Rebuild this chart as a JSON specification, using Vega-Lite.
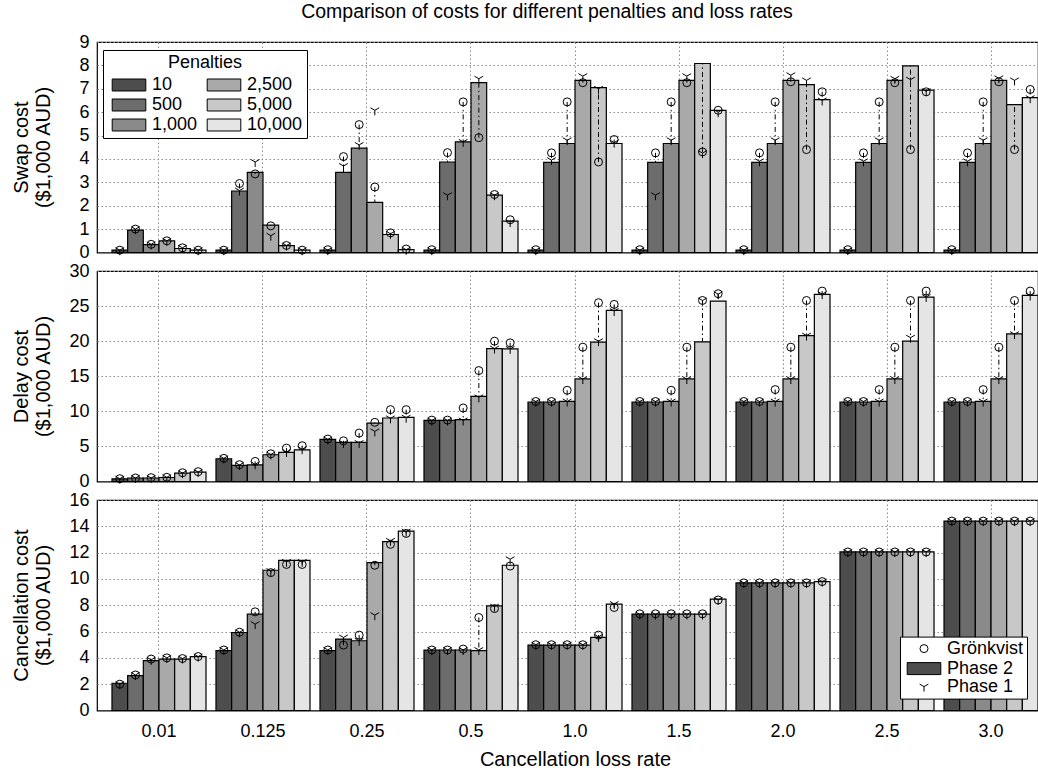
{
"$schema": "https://vega.github.io/schema/vega-lite/v6.json",
"padding": {"left": 10, "top": 2, "right": 0, "bottom": 0},
"title": {"text": "Comparison of costs for different penalties and loss rates", "fontSize": 19.5, "fontWeight": "normal", "font": "Liberation Sans", "anchor": "middle", "offset": 9.7, "dx": 15, "color": "black"},
"config": {
 "font": "Liberation Sans",
 "view": {"stroke": "black", "strokeWidth": 1.2},
 "axis": {"grid": true, "gridColor": "#8c8c8c", "gridDash": [1.5, 2.5], "gridWidth": 1, "domain": false, "ticks": false, "labelFontSize": 18, "labelColor": "black", "titleFontSize": 20, "titleFontWeight": "normal", "titleColor": "black", "labelFont": "Liberation Sans", "titleFont": "Liberation Sans", "labelOverlap": false},
 "axisY": {"labelPadding": 8, "titleX": -66, "titleY": 105, "titleBaseline": "bottom", "titleLineHeight": 22, "titleAngle": -90, "titleAlign": "center"},
 "axisX": {"labelAngle": 0, "labelPadding": 12, "titlePadding": 9},
 "legend": {"labelFontSize": 18, "labelFont": "Liberation Sans", "titleFont": "Liberation Sans", "titleFontSize": 18, "titleFontWeight": "normal", "labelColor": "black", "titleColor": "black", "strokeColor": "black", "fillColor": "white", "symbolStrokeColor": "black", "symbolStrokeWidth": 1}
},
"resolve": {"scale": {"color": "independent", "shape": "independent", "fill": "independent", "size": "independent", "stroke": "independent", "y": "independent"}, "legend": {"color": "independent", "shape": "independent", "fill": "independent", "size": "independent", "stroke": "independent"}},
"spacing": -2,
"datasets": {"costs": [
{"metric":"Swap","rate":"0.01","penalty":"10","Phase 2":0.1,"Grönkvist":0.1,"Phase 1":0.1},
{"metric":"Swap","rate":"0.01","penalty":"500","Phase 2":0.96,"Grönkvist":1.0,"Phase 1":1.0},
{"metric":"Swap","rate":"0.01","penalty":"1,000","Phase 2":0.34,"Grönkvist":0.35,"Phase 1":0.35},
{"metric":"Swap","rate":"0.01","penalty":"2,500","Phase 2":0.5,"Grönkvist":0.5,"Phase 1":0.5},
{"metric":"Swap","rate":"0.01","penalty":"5,000","Phase 2":0.17,"Grönkvist":0.2,"Phase 1":0.2},
{"metric":"Swap","rate":"0.01","penalty":"10,000","Phase 2":0.1,"Grönkvist":0.1,"Phase 1":0.1},
{"metric":"Swap","rate":"0.125","penalty":"10","Phase 2":0.1,"Grönkvist":0.1,"Phase 1":0.1},
{"metric":"Swap","rate":"0.125","penalty":"500","Phase 2":2.63,"Grönkvist":2.95,"Phase 1":2.65},
{"metric":"Swap","rate":"0.125","penalty":"1,000","Phase 2":3.43,"Grönkvist":3.36,"Phase 1":3.87},
{"metric":"Swap","rate":"0.125","penalty":"2,500","Phase 2":1.17,"Grönkvist":1.14,"Phase 1":0.72},
{"metric":"Swap","rate":"0.125","penalty":"5,000","Phase 2":0.29,"Grönkvist":0.3,"Phase 1":0.3},
{"metric":"Swap","rate":"0.125","penalty":"10,000","Phase 2":0.1,"Grönkvist":0.1,"Phase 1":0.1},
{"metric":"Swap","rate":"0.25","penalty":"10","Phase 2":0.1,"Grönkvist":0.12,"Phase 1":0.1},
{"metric":"Swap","rate":"0.25","penalty":"500","Phase 2":3.43,"Grönkvist":4.1,"Phase 1":3.7},
{"metric":"Swap","rate":"0.25","penalty":"1,000","Phase 2":4.46,"Grönkvist":5.47,"Phase 1":4.6},
{"metric":"Swap","rate":"0.25","penalty":"2,500","Phase 2":2.14,"Grönkvist":2.8,"Phase 1":6.08},
{"metric":"Swap","rate":"0.25","penalty":"5,000","Phase 2":0.77,"Grönkvist":0.84,"Phase 1":0.8},
{"metric":"Swap","rate":"0.25","penalty":"10,000","Phase 2":0.12,"Grönkvist":0.15,"Phase 1":0.12},
{"metric":"Swap","rate":"0.5","penalty":"10","Phase 2":0.1,"Grönkvist":0.12,"Phase 1":0.1},
{"metric":"Swap","rate":"0.5","penalty":"500","Phase 2":3.87,"Grönkvist":4.27,"Phase 1":2.45},
{"metric":"Swap","rate":"0.5","penalty":"1,000","Phase 2":4.73,"Grönkvist":6.44,"Phase 1":4.73},
{"metric":"Swap","rate":"0.5","penalty":"2,500","Phase 2":7.26,"Grönkvist":4.91,"Phase 1":7.43},
{"metric":"Swap","rate":"0.5","penalty":"5,000","Phase 2":2.45,"Grönkvist":2.48,"Phase 1":2.45},
{"metric":"Swap","rate":"0.5","penalty":"10,000","Phase 2":1.34,"Grönkvist":1.4,"Phase 1":1.3},
{"metric":"Swap","rate":"1.0","penalty":"10","Phase 2":0.1,"Grönkvist":0.12,"Phase 1":0.1},
{"metric":"Swap","rate":"1.0","penalty":"500","Phase 2":3.85,"Grönkvist":4.26,"Phase 1":3.95},
{"metric":"Swap","rate":"1.0","penalty":"1,000","Phase 2":4.66,"Grönkvist":6.44,"Phase 1":4.8},
{"metric":"Swap","rate":"1.0","penalty":"2,500","Phase 2":7.36,"Grönkvist":7.26,"Phase 1":7.54},
{"metric":"Swap","rate":"1.0","penalty":"5,000","Phase 2":7.05,"Grönkvist":3.87,"Phase 1":7.0},
{"metric":"Swap","rate":"1.0","penalty":"10,000","Phase 2":4.66,"Grönkvist":4.83,"Phase 1":4.7},
{"metric":"Swap","rate":"1.5","penalty":"10","Phase 2":0.1,"Grönkvist":0.12,"Phase 1":0.1},
{"metric":"Swap","rate":"1.5","penalty":"500","Phase 2":3.85,"Grönkvist":4.26,"Phase 1":2.45},
{"metric":"Swap","rate":"1.5","penalty":"1,000","Phase 2":4.66,"Grönkvist":6.44,"Phase 1":4.8},
{"metric":"Swap","rate":"1.5","penalty":"2,500","Phase 2":7.36,"Grönkvist":7.26,"Phase 1":7.54},
{"metric":"Swap","rate":"1.5","penalty":"5,000","Phase 2":8.08,"Grönkvist":4.3,"Phase 1":4.25},
{"metric":"Swap","rate":"1.5","penalty":"10,000","Phase 2":6.08,"Grönkvist":6.08,"Phase 1":6.0},
{"metric":"Swap","rate":"2.0","penalty":"10","Phase 2":0.1,"Grönkvist":0.12,"Phase 1":0.1},
{"metric":"Swap","rate":"2.0","penalty":"500","Phase 2":3.85,"Grönkvist":4.26,"Phase 1":3.9},
{"metric":"Swap","rate":"2.0","penalty":"1,000","Phase 2":4.66,"Grönkvist":6.44,"Phase 1":4.8},
{"metric":"Swap","rate":"2.0","penalty":"2,500","Phase 2":7.36,"Grönkvist":7.3,"Phase 1":7.58},
{"metric":"Swap","rate":"2.0","penalty":"5,000","Phase 2":7.18,"Grönkvist":4.4,"Phase 1":7.36},
{"metric":"Swap","rate":"2.0","penalty":"10,000","Phase 2":6.54,"Grönkvist":6.87,"Phase 1":6.5},
{"metric":"Swap","rate":"2.5","penalty":"10","Phase 2":0.1,"Grönkvist":0.12,"Phase 1":0.1},
{"metric":"Swap","rate":"2.5","penalty":"500","Phase 2":3.85,"Grönkvist":4.26,"Phase 1":3.9},
{"metric":"Swap","rate":"2.5","penalty":"1,000","Phase 2":4.66,"Grönkvist":6.44,"Phase 1":4.8},
{"metric":"Swap","rate":"2.5","penalty":"2,500","Phase 2":7.36,"Grönkvist":7.26,"Phase 1":7.43},
{"metric":"Swap","rate":"2.5","penalty":"5,000","Phase 2":7.98,"Grönkvist":4.4,"Phase 1":7.39},
{"metric":"Swap","rate":"2.5","penalty":"10,000","Phase 2":6.94,"Grönkvist":6.87,"Phase 1":6.9},
{"metric":"Swap","rate":"3.0","penalty":"10","Phase 2":0.1,"Grönkvist":0.12,"Phase 1":0.1},
{"metric":"Swap","rate":"3.0","penalty":"500","Phase 2":3.85,"Grönkvist":4.26,"Phase 1":3.9},
{"metric":"Swap","rate":"3.0","penalty":"1,000","Phase 2":4.66,"Grönkvist":6.44,"Phase 1":4.8},
{"metric":"Swap","rate":"3.0","penalty":"2,500","Phase 2":7.36,"Grönkvist":7.3,"Phase 1":7.45},
{"metric":"Swap","rate":"3.0","penalty":"5,000","Phase 2":6.32,"Grönkvist":4.4,"Phase 1":7.36},
{"metric":"Swap","rate":"3.0","penalty":"10,000","Phase 2":6.62,"Grönkvist":6.97,"Phase 1":6.6},
{"metric":"Delay","rate":"0.01","penalty":"10","Phase 2":0.38,"Grönkvist":0.4,"Phase 1":0.4},
{"metric":"Delay","rate":"0.01","penalty":"500","Phase 2":0.5,"Grönkvist":0.5,"Phase 1":0.5},
{"metric":"Delay","rate":"0.01","penalty":"1,000","Phase 2":0.5,"Grönkvist":0.55,"Phase 1":0.5},
{"metric":"Delay","rate":"0.01","penalty":"2,500","Phase 2":0.57,"Grönkvist":0.6,"Phase 1":0.6},
{"metric":"Delay","rate":"0.01","penalty":"5,000","Phase 2":1.2,"Grönkvist":1.25,"Phase 1":1.2},
{"metric":"Delay","rate":"0.01","penalty":"10,000","Phase 2":1.33,"Grönkvist":1.4,"Phase 1":1.35},
{"metric":"Delay","rate":"0.125","penalty":"10","Phase 2":3.24,"Grönkvist":3.3,"Phase 1":3.3},
{"metric":"Delay","rate":"0.125","penalty":"500","Phase 2":2.29,"Grönkvist":2.4,"Phase 1":2.35},
{"metric":"Delay","rate":"0.125","penalty":"1,000","Phase 2":2.38,"Grönkvist":2.86,"Phase 1":2.45},
{"metric":"Delay","rate":"0.125","penalty":"2,500","Phase 2":3.81,"Grönkvist":3.95,"Phase 1":3.85},
{"metric":"Delay","rate":"0.125","penalty":"5,000","Phase 2":4.14,"Grönkvist":4.76,"Phase 1":4.2},
{"metric":"Delay","rate":"0.125","penalty":"10,000","Phase 2":4.52,"Grönkvist":5.1,"Phase 1":4.6},
{"metric":"Delay","rate":"0.25","penalty":"10","Phase 2":6.0,"Grönkvist":6.05,"Phase 1":6.0},
{"metric":"Delay","rate":"0.25","penalty":"500","Phase 2":5.57,"Grönkvist":5.8,"Phase 1":5.5},
{"metric":"Delay","rate":"0.25","penalty":"1,000","Phase 2":5.57,"Grönkvist":6.9,"Phase 1":5.5},
{"metric":"Delay","rate":"0.25","penalty":"2,500","Phase 2":8.33,"Grönkvist":8.43,"Phase 1":7.14},
{"metric":"Delay","rate":"0.25","penalty":"5,000","Phase 2":9.05,"Grönkvist":10.24,"Phase 1":9.0},
{"metric":"Delay","rate":"0.25","penalty":"10,000","Phase 2":9.14,"Grönkvist":10.24,"Phase 1":9.1},
{"metric":"Delay","rate":"0.5","penalty":"10","Phase 2":8.71,"Grönkvist":8.75,"Phase 1":8.7},
{"metric":"Delay","rate":"0.5","penalty":"500","Phase 2":8.71,"Grönkvist":8.75,"Phase 1":8.7},
{"metric":"Delay","rate":"0.5","penalty":"1,000","Phase 2":8.81,"Grönkvist":10.48,"Phase 1":8.7},
{"metric":"Delay","rate":"0.5","penalty":"2,500","Phase 2":12.14,"Grönkvist":15.81,"Phase 1":12.0},
{"metric":"Delay","rate":"0.5","penalty":"5,000","Phase 2":18.95,"Grönkvist":20.0,"Phase 1":18.95},
{"metric":"Delay","rate":"0.5","penalty":"10,000","Phase 2":18.9,"Grönkvist":19.76,"Phase 1":18.9},
{"metric":"Delay","rate":"1.0","penalty":"10","Phase 2":11.33,"Grönkvist":11.4,"Phase 1":11.4},
{"metric":"Delay","rate":"1.0","penalty":"500","Phase 2":11.33,"Grönkvist":11.4,"Phase 1":11.4},
{"metric":"Delay","rate":"1.0","penalty":"1,000","Phase 2":11.43,"Grönkvist":13.0,"Phase 1":11.4},
{"metric":"Delay","rate":"1.0","penalty":"2,500","Phase 2":14.62,"Grönkvist":19.14,"Phase 1":14.6},
{"metric":"Delay","rate":"1.0","penalty":"5,000","Phase 2":19.86,"Grönkvist":25.48,"Phase 1":20.0},
{"metric":"Delay","rate":"1.0","penalty":"10,000","Phase 2":24.38,"Grönkvist":25.24,"Phase 1":24.3},
{"metric":"Delay","rate":"1.5","penalty":"10","Phase 2":11.33,"Grönkvist":11.4,"Phase 1":11.4},
{"metric":"Delay","rate":"1.5","penalty":"500","Phase 2":11.33,"Grönkvist":11.4,"Phase 1":11.4},
{"metric":"Delay","rate":"1.5","penalty":"1,000","Phase 2":11.43,"Grönkvist":13.0,"Phase 1":11.4},
{"metric":"Delay","rate":"1.5","penalty":"2,500","Phase 2":14.62,"Grönkvist":19.14,"Phase 1":14.6},
{"metric":"Delay","rate":"1.5","penalty":"5,000","Phase 2":19.9,"Grönkvist":25.8,"Phase 1":25.8},
{"metric":"Delay","rate":"1.5","penalty":"10,000","Phase 2":25.7,"Grönkvist":26.76,"Phase 1":26.7},
{"metric":"Delay","rate":"2.0","penalty":"10","Phase 2":11.33,"Grönkvist":11.4,"Phase 1":11.4},
{"metric":"Delay","rate":"2.0","penalty":"500","Phase 2":11.33,"Grönkvist":11.4,"Phase 1":11.4},
{"metric":"Delay","rate":"2.0","penalty":"1,000","Phase 2":11.43,"Grönkvist":13.1,"Phase 1":11.4},
{"metric":"Delay","rate":"2.0","penalty":"2,500","Phase 2":14.62,"Grönkvist":19.14,"Phase 1":14.6},
{"metric":"Delay","rate":"2.0","penalty":"5,000","Phase 2":20.8,"Grönkvist":25.8,"Phase 1":20.8},
{"metric":"Delay","rate":"2.0","penalty":"10,000","Phase 2":26.67,"Grönkvist":27.14,"Phase 1":26.7},
{"metric":"Delay","rate":"2.5","penalty":"10","Phase 2":11.33,"Grönkvist":11.4,"Phase 1":11.4},
{"metric":"Delay","rate":"2.5","penalty":"500","Phase 2":11.33,"Grönkvist":11.4,"Phase 1":11.4},
{"metric":"Delay","rate":"2.5","penalty":"1,000","Phase 2":11.43,"Grönkvist":13.1,"Phase 1":11.4},
{"metric":"Delay","rate":"2.5","penalty":"2,500","Phase 2":14.62,"Grönkvist":19.14,"Phase 1":14.6},
{"metric":"Delay","rate":"2.5","penalty":"5,000","Phase 2":20.0,"Grönkvist":25.8,"Phase 1":20.5},
{"metric":"Delay","rate":"2.5","penalty":"10,000","Phase 2":26.29,"Grönkvist":27.14,"Phase 1":26.3},
{"metric":"Delay","rate":"3.0","penalty":"10","Phase 2":11.33,"Grönkvist":11.4,"Phase 1":11.4},
{"metric":"Delay","rate":"3.0","penalty":"500","Phase 2":11.33,"Grönkvist":11.4,"Phase 1":11.4},
{"metric":"Delay","rate":"3.0","penalty":"1,000","Phase 2":11.43,"Grönkvist":13.1,"Phase 1":11.4},
{"metric":"Delay","rate":"3.0","penalty":"2,500","Phase 2":14.62,"Grönkvist":19.14,"Phase 1":14.6},
{"metric":"Delay","rate":"3.0","penalty":"5,000","Phase 2":21.05,"Grönkvist":25.8,"Phase 1":21.0},
{"metric":"Delay","rate":"3.0","penalty":"10,000","Phase 2":26.52,"Grönkvist":27.14,"Phase 1":26.5},
{"metric":"Cancellation","rate":"0.01","penalty":"10","Phase 2":2.07,"Grönkvist":2.0,"Phase 1":2.0},
{"metric":"Cancellation","rate":"0.01","penalty":"500","Phase 2":2.65,"Grönkvist":2.7,"Phase 1":2.7},
{"metric":"Cancellation","rate":"0.01","penalty":"1,000","Phase 2":3.79,"Grönkvist":3.91,"Phase 1":3.85},
{"metric":"Cancellation","rate":"0.01","penalty":"2,500","Phase 2":3.91,"Grönkvist":4.0,"Phase 1":4.0},
{"metric":"Cancellation","rate":"0.01","penalty":"5,000","Phase 2":3.91,"Grönkvist":3.95,"Phase 1":3.95},
{"metric":"Cancellation","rate":"0.01","penalty":"10,000","Phase 2":4.09,"Grönkvist":4.1,"Phase 1":4.1},
{"metric":"Cancellation","rate":"0.125","penalty":"10","Phase 2":4.55,"Grönkvist":4.6,"Phase 1":4.6},
{"metric":"Cancellation","rate":"0.125","penalty":"500","Phase 2":5.93,"Grönkvist":5.95,"Phase 1":5.95},
{"metric":"Cancellation","rate":"0.125","penalty":"1,000","Phase 2":7.32,"Grönkvist":7.5,"Phase 1":6.57},
{"metric":"Cancellation","rate":"0.125","penalty":"2,500","Phase 2":10.66,"Grönkvist":10.48,"Phase 1":10.6},
{"metric":"Cancellation","rate":"0.125","penalty":"5,000","Phase 2":11.41,"Grönkvist":11.1,"Phase 1":11.3},
{"metric":"Cancellation","rate":"0.125","penalty":"10,000","Phase 2":11.41,"Grönkvist":11.1,"Phase 1":11.3},
{"metric":"Cancellation","rate":"0.25","penalty":"10","Phase 2":4.55,"Grönkvist":4.6,"Phase 1":4.6},
{"metric":"Cancellation","rate":"0.25","penalty":"500","Phase 2":5.43,"Grönkvist":4.97,"Phase 1":5.55},
{"metric":"Cancellation","rate":"0.25","penalty":"1,000","Phase 2":5.3,"Grönkvist":5.73,"Phase 1":5.3},
{"metric":"Cancellation","rate":"0.25","penalty":"2,500","Phase 2":11.24,"Grönkvist":11.04,"Phase 1":7.25},
{"metric":"Cancellation","rate":"0.25","penalty":"5,000","Phase 2":12.83,"Grönkvist":12.63,"Phase 1":12.9},
{"metric":"Cancellation","rate":"0.25","penalty":"10,000","Phase 2":13.64,"Grönkvist":13.46,"Phase 1":13.6},
{"metric":"Cancellation","rate":"0.5","penalty":"10","Phase 2":4.6,"Grönkvist":4.6,"Phase 1":4.6},
{"metric":"Cancellation","rate":"0.5","penalty":"500","Phase 2":4.6,"Grönkvist":4.6,"Phase 1":4.6},
{"metric":"Cancellation","rate":"0.5","penalty":"1,000","Phase 2":4.6,"Grönkvist":4.67,"Phase 1":4.6},
{"metric":"Cancellation","rate":"0.5","penalty":"2,500","Phase 2":4.55,"Grönkvist":7.07,"Phase 1":4.6},
{"metric":"Cancellation","rate":"0.5","penalty":"5,000","Phase 2":7.95,"Grönkvist":7.75,"Phase 1":7.9},
{"metric":"Cancellation","rate":"0.5","penalty":"10,000","Phase 2":11.04,"Grönkvist":10.98,"Phase 1":11.5},
{"metric":"Cancellation","rate":"1.0","penalty":"10","Phase 2":4.97,"Grönkvist":5.0,"Phase 1":5.0},
{"metric":"Cancellation","rate":"1.0","penalty":"500","Phase 2":4.97,"Grönkvist":5.0,"Phase 1":5.0},
{"metric":"Cancellation","rate":"1.0","penalty":"1,000","Phase 2":4.97,"Grönkvist":5.0,"Phase 1":5.0},
{"metric":"Cancellation","rate":"1.0","penalty":"2,500","Phase 2":4.97,"Grönkvist":5.0,"Phase 1":5.0},
{"metric":"Cancellation","rate":"1.0","penalty":"5,000","Phase 2":5.56,"Grönkvist":5.73,"Phase 1":5.6},
{"metric":"Cancellation","rate":"1.0","penalty":"10,000","Phase 2":8.08,"Grönkvist":7.83,"Phase 1":8.1},
{"metric":"Cancellation","rate":"1.5","penalty":"10","Phase 2":7.32,"Grönkvist":7.35,"Phase 1":7.3},
{"metric":"Cancellation","rate":"1.5","penalty":"500","Phase 2":7.32,"Grönkvist":7.35,"Phase 1":7.3},
{"metric":"Cancellation","rate":"1.5","penalty":"1,000","Phase 2":7.32,"Grönkvist":7.35,"Phase 1":7.3},
{"metric":"Cancellation","rate":"1.5","penalty":"2,500","Phase 2":7.32,"Grönkvist":7.35,"Phase 1":7.3},
{"metric":"Cancellation","rate":"1.5","penalty":"5,000","Phase 2":7.32,"Grönkvist":7.35,"Phase 1":7.3},
{"metric":"Cancellation","rate":"1.5","penalty":"10,000","Phase 2":8.46,"Grönkvist":8.4,"Phase 1":8.4},
{"metric":"Cancellation","rate":"2.0","penalty":"10","Phase 2":9.7,"Grönkvist":9.7,"Phase 1":9.7},
{"metric":"Cancellation","rate":"2.0","penalty":"500","Phase 2":9.7,"Grönkvist":9.7,"Phase 1":9.7},
{"metric":"Cancellation","rate":"2.0","penalty":"1,000","Phase 2":9.7,"Grönkvist":9.7,"Phase 1":9.7},
{"metric":"Cancellation","rate":"2.0","penalty":"2,500","Phase 2":9.7,"Grönkvist":9.7,"Phase 1":9.7},
{"metric":"Cancellation","rate":"2.0","penalty":"5,000","Phase 2":9.7,"Grönkvist":9.7,"Phase 1":9.7},
{"metric":"Cancellation","rate":"2.0","penalty":"10,000","Phase 2":9.8,"Grönkvist":9.8,"Phase 1":9.8},
{"metric":"Cancellation","rate":"2.5","penalty":"10","Phase 2":12.05,"Grönkvist":12.05,"Phase 1":12.05},
{"metric":"Cancellation","rate":"2.5","penalty":"500","Phase 2":12.05,"Grönkvist":12.05,"Phase 1":12.05},
{"metric":"Cancellation","rate":"2.5","penalty":"1,000","Phase 2":12.05,"Grönkvist":12.05,"Phase 1":12.05},
{"metric":"Cancellation","rate":"2.5","penalty":"2,500","Phase 2":12.05,"Grönkvist":12.05,"Phase 1":12.05},
{"metric":"Cancellation","rate":"2.5","penalty":"5,000","Phase 2":12.05,"Grönkvist":12.05,"Phase 1":12.05},
{"metric":"Cancellation","rate":"2.5","penalty":"10,000","Phase 2":12.05,"Grönkvist":12.05,"Phase 1":12.05},
{"metric":"Cancellation","rate":"3.0","penalty":"10","Phase 2":14.4,"Grönkvist":14.4,"Phase 1":14.4},
{"metric":"Cancellation","rate":"3.0","penalty":"500","Phase 2":14.4,"Grönkvist":14.4,"Phase 1":14.4},
{"metric":"Cancellation","rate":"3.0","penalty":"1,000","Phase 2":14.4,"Grönkvist":14.4,"Phase 1":14.4},
{"metric":"Cancellation","rate":"3.0","penalty":"2,500","Phase 2":14.4,"Grönkvist":14.4,"Phase 1":14.4},
{"metric":"Cancellation","rate":"3.0","penalty":"5,000","Phase 2":14.4,"Grönkvist":14.4,"Phase 1":14.4},
{"metric":"Cancellation","rate":"3.0","penalty":"10,000","Phase 2":14.4,"Grönkvist":14.4,"Phase 1":14.4}
]},
"vconcat": [
{
 "width": 941, "height": 210.5,
 "data": {"name": "costs"},
 "transform": [{"filter": "datum.metric === 'Swap'"}],
 "encoding": {
  "x": {"field": "rate", "type": "nominal", "sort": null, "scale": {"range": [0, 956], "paddingInner": 0.096, "paddingOuter": 0.144}, "axis": {"labels": false, "title": null, "bandPosition": 0.5, "labelPadding": 0, "minExtent": 0}},
  "xOffset": {"field": "penalty", "type": "nominal", "sort": ["10","500","1,000","2,500","5,000","10,000"], "scale": {"paddingInner": 0, "paddingOuter": 0}}
 },
 "layer": [
  {"mark": {"type": "bar", "stroke": "black", "strokeWidth": 1.2, "opacity": 1},
   "encoding": {
    "y": {"field": "Phase 2", "type": "quantitative", "scale": {"domain": [0, 9], "nice": false}, "axis": {"values": [0,1,2,3,4,5,6,7,8,9], "title": ["Swap cost", "($1,000 AUD)"]}},
    "color": {"field": "penalty", "type": "nominal", "scale": {"domain": ["10","500","1,000","2,500","5,000","10,000"], "range": ["#4d4d4d","#6c6c6c","#8a8a8a","#a9a9a9","#c8c8c8","#e5e5e5"]},
     "legend": {"orient": "none", "legendX": 6, "legendY": 8, "columns": 2, "title": "Penalties", "titleAnchor": "middle", "titlePadding": 2, "symbolType": "M-1.6,-0.57H1.6V0.57H-1.6Z", "symbolSize": 441, "symbolOffset": 11, "padding": 4, "rowPadding": 0, "columnPadding": 4, "labelOffset": 12}}
   }},
  {"mark": {"type": "rule", "color": "black", "strokeWidth": 1, "strokeDash": [5, 3, 1.5, 3]},
   "encoding": {"y": {"field": "Grönkvist", "type": "quantitative", "axis": {"values": [0,1,2,3,4,5,6,7,8,9], "title": ["Swap cost", "($1,000 AUD)"]}}, "y2": {"field": "Phase 2"}}},
  {"transform": [{"fold": ["Grönkvist", "Phase 1"], "as": ["series", "value"]}],
   "mark": {"type": "point", "filled": true, "strokeWidth": 1, "opacity": 1},
   "encoding": {"y": {"field": "value", "type": "quantitative", "axis": {"values": [0,1,2,3,4,5,6,7,8,9], "title": ["Swap cost", "($1,000 AUD)"]}},
    "shape": {"field": "series", "type": "nominal", "scale": {"domain": ["Grönkvist","Phase 2","Phase 1"], "range": ["circle", "M-1.6,-0.57H1.6V0.57H-1.6Z", "M0,0V1M0,0L-0.87,-0.5M0,0L0.87,-0.5"]}, "legend": null},
    "fill": {"field": "series", "type": "nominal", "scale": {"domain": ["Grönkvist","Phase 2","Phase 1"], "range": ["transparent", "#4d4d4d", "transparent"]}, "legend": null},
    "stroke": {"field": "series", "type": "nominal", "scale": {"domain": ["Grönkvist","Phase 2","Phase 1"], "range": ["black", "black", "black"]}, "legend": null},
    "size": {"field": "series", "type": "nominal", "scale": {"type": "ordinal", "domain": ["Grönkvist","Phase 2","Phase 1"], "range": [64, 441, 100]}, "legend": null}}}
 ]
},
{
 "width": 941, "height": 210.5,
 "data": {"name": "costs"},
 "transform": [{"filter": "datum.metric === 'Delay'"}],
 "encoding": {
  "x": {"field": "rate", "type": "nominal", "sort": null, "scale": {"range": [0, 956], "paddingInner": 0.096, "paddingOuter": 0.144}, "axis": {"labels": false, "title": null, "bandPosition": 0.5, "labelPadding": 0, "minExtent": 0}},
  "xOffset": {"field": "penalty", "type": "nominal", "sort": ["10","500","1,000","2,500","5,000","10,000"], "scale": {"paddingInner": 0, "paddingOuter": 0}}
 },
 "layer": [
  {"mark": {"type": "bar", "stroke": "black", "strokeWidth": 1.2, "opacity": 1},
   "encoding": {
    "y": {"field": "Phase 2", "type": "quantitative", "scale": {"domain": [0, 30], "nice": false}, "axis": {"values": [0,5,10,15,20,25,30], "title": ["Delay cost", "($1,000 AUD)"]}},
    "color": {"field": "penalty", "type": "nominal", "scale": {"domain": ["10","500","1,000","2,500","5,000","10,000"], "range": ["#4d4d4d","#6c6c6c","#8a8a8a","#a9a9a9","#c8c8c8","#e5e5e5"]}, "legend": null}
   }},
  {"mark": {"type": "rule", "color": "black", "strokeWidth": 1, "strokeDash": [5, 3, 1.5, 3]},
   "encoding": {"y": {"field": "Grönkvist", "type": "quantitative", "axis": {"values": [0,5,10,15,20,25,30], "title": ["Delay cost", "($1,000 AUD)"]}}, "y2": {"field": "Phase 2"}}},
  {"transform": [{"fold": ["Grönkvist", "Phase 1"], "as": ["series", "value"]}],
   "mark": {"type": "point", "filled": true, "strokeWidth": 1, "opacity": 1},
   "encoding": {"y": {"field": "value", "type": "quantitative", "axis": {"values": [0,5,10,15,20,25,30], "title": ["Delay cost", "($1,000 AUD)"]}},
    "shape": {"field": "series", "type": "nominal", "scale": {"domain": ["Grönkvist","Phase 2","Phase 1"], "range": ["circle", "M-1.6,-0.57H1.6V0.57H-1.6Z", "M0,0V1M0,0L-0.87,-0.5M0,0L0.87,-0.5"]}, "legend": null},
    "fill": {"field": "series", "type": "nominal", "scale": {"domain": ["Grönkvist","Phase 2","Phase 1"], "range": ["transparent", "#4d4d4d", "transparent"]}, "legend": null},
    "stroke": {"field": "series", "type": "nominal", "scale": {"domain": ["Grönkvist","Phase 2","Phase 1"], "range": ["black", "black", "black"]}, "legend": null},
    "size": {"field": "series", "type": "nominal", "scale": {"type": "ordinal", "domain": ["Grönkvist","Phase 2","Phase 1"], "range": [64, 441, 100]}, "legend": null}}}
 ]
},
{
 "width": 941, "height": 210.5,
 "data": {"name": "costs"},
 "transform": [{"filter": "datum.metric === 'Cancellation'"}],
 "encoding": {
  "x": {"field": "rate", "type": "nominal", "sort": null, "scale": {"range": [0, 956], "paddingInner": 0.096, "paddingOuter": 0.144}, "axis": {"title": "Cancellation loss rate", "bandPosition": 0.5}},
  "xOffset": {"field": "penalty", "type": "nominal", "sort": ["10","500","1,000","2,500","5,000","10,000"], "scale": {"paddingInner": 0, "paddingOuter": 0}}
 },
 "layer": [
  {"mark": {"type": "bar", "stroke": "black", "strokeWidth": 1.2, "opacity": 1},
   "encoding": {
    "y": {"field": "Phase 2", "type": "quantitative", "scale": {"domain": [0, 16], "nice": false}, "axis": {"values": [0,2,4,6,8,10,12,14,16], "title": ["Cancellation cost", "($1,000 AUD)"]}},
    "color": {"field": "penalty", "type": "nominal", "scale": {"domain": ["10","500","1,000","2,500","5,000","10,000"], "range": ["#4d4d4d","#6c6c6c","#8a8a8a","#a9a9a9","#c8c8c8","#e5e5e5"]}, "legend": null}
   }},
  {"mark": {"type": "rule", "color": "black", "strokeWidth": 1, "strokeDash": [5, 3, 1.5, 3]},
   "encoding": {"y": {"field": "Grönkvist", "type": "quantitative", "axis": {"values": [0,2,4,6,8,10,12,14,16], "title": ["Cancellation cost", "($1,000 AUD)"]}}, "y2": {"field": "Phase 2"}}},
  {"transform": [{"fold": ["Grönkvist", "Phase 1"], "as": ["series", "value"]}],
   "mark": {"type": "point", "filled": true, "strokeWidth": 1, "opacity": 1},
   "encoding": {"y": {"field": "value", "type": "quantitative", "axis": {"values": [0,2,4,6,8,10,12,14,16], "title": ["Cancellation cost", "($1,000 AUD)"]}},
    "shape": {"field": "series", "type": "nominal", "scale": {"domain": ["Grönkvist","Phase 2","Phase 1"], "range": ["circle", "M-1.6,-0.57H1.6V0.57H-1.6Z", "M0,0V1M0,0L-0.87,-0.5M0,0L0.87,-0.5"]},
     "legend": {"orient": "none", "legendX": 803, "legendY": 136.6, "title": null, "padding": 3, "rowPadding": 0, "symbolOffset": 10, "labelOffset": 12}},
    "fill": {"field": "series", "type": "nominal", "scale": {"domain": ["Grönkvist","Phase 2","Phase 1"], "range": ["transparent", "#4d4d4d", "transparent"]},
     "legend": {"orient": "none", "legendX": 803, "legendY": 136.6, "title": null, "padding": 3, "rowPadding": 0, "symbolOffset": 10, "labelOffset": 12}},
    "stroke": {"field": "series", "type": "nominal", "scale": {"domain": ["Grönkvist","Phase 2","Phase 1"], "range": ["black", "black", "black"]},
     "legend": {"orient": "none", "legendX": 803, "legendY": 136.6, "title": null, "padding": 3, "rowPadding": 0, "symbolOffset": 10, "labelOffset": 12}},
    "size": {"field": "series", "type": "nominal", "scale": {"type": "ordinal", "domain": ["Grönkvist","Phase 2","Phase 1"], "range": [64, 441, 100]},
     "legend": {"orient": "none", "legendX": 803, "legendY": 136.6, "title": null, "padding": 3, "rowPadding": 0, "symbolOffset": 10, "labelOffset": 12}}}}
 ]
}
]
}
